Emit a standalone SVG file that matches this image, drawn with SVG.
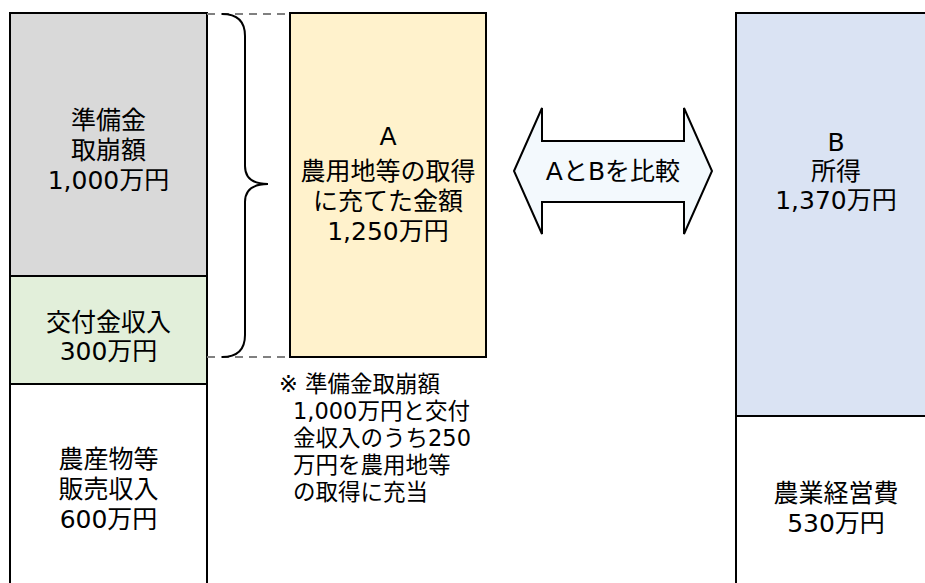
<svg xmlns="http://www.w3.org/2000/svg" width="925" height="583" viewBox="0 0 925 583">
<style>
.box{stroke:#000;stroke-width:2}
.t{font-family:"DejaVu Sans","Noto Sans CJK JP",sans-serif;font-size:25px;fill:#000;text-anchor:middle}
.n{font-family:"DejaVu Sans","Noto Sans CJK JP",sans-serif;font-size:22.5px;fill:#000}
.dash{stroke:#808080;stroke-width:2;stroke-dasharray:8 6;fill:none}
</style>
<rect width="925" height="583" fill="#fff"/>
<g id="reserve">
<rect class="box" x="10" y="13" width="197" height="263" fill="#d9d9d9"/>
<text class="t" x="108.5" y="129">準備金</text>
<text class="t" x="108.5" y="159">取崩額</text>
<text class="t" x="108.5" y="189">1,000万円</text>
</g>
<g id="grant">
<rect class="box" x="10" y="276" width="197" height="108" fill="#e2efda"/>
<text class="t" x="108.5" y="331">交付金収入</text>
<text class="t" x="108.5" y="360">300万円</text>
</g>
<g id="sales">
<rect class="box" x="10" y="384" width="197" height="210" fill="#fff"/>
<text class="t" x="108.5" y="468">農産物等</text>
<text class="t" x="108.5" y="498">販売収入</text>
<text class="t" x="108.5" y="528">600万円</text>
</g>
<g id="A">
<rect class="box" x="290" y="13" width="196" height="344" fill="#fff2cc"/>
<text class="t" x="388" y="145">A</text>
<text class="t" x="388" y="180">農用地等の取得</text>
<text class="t" x="388" y="210">に充てた金額</text>
<text class="t" x="388" y="240">1,250万円</text>
</g>
<g id="B">
<rect class="box" x="736" y="13" width="200" height="403" fill="#dae3f3"/>
<text class="t" x="836" y="151">B</text>
<text class="t" x="836" y="180">所得</text>
<text class="t" x="836" y="209">1,370万円</text>
</g>
<g id="expense">
<rect class="box" x="736" y="416" width="200" height="180" fill="#fff"/>
<text class="t" x="836" y="502">農業経営費</text>
<text class="t" x="836" y="532">530万円</text>
</g>
<g id="compare">
<polygon points="514,171 542,108 542,141 684,141 684,108 712,171 684,234 684,202 542,202 542,234" fill="#f3f9fd" stroke="#000" stroke-width="2"/>
<text class="t" x="613" y="180">AとBを比較</text>
</g>
<g id="note">
<text class="n" x="279" y="392">※ 準備金取崩額</text>
<text class="n" x="293" y="419">1,000万円と交付</text>
<text class="n" x="293" y="446">金収入のうち250</text>
<text class="n" x="293" y="473">万円を農用地等</text>
<text class="n" x="293" y="500">の取得に充当</text>
</g>
<g id="connectors">
<line class="dash" x1="207" y1="14" x2="290" y2="14"/>
<line class="dash" x1="207" y1="357" x2="290" y2="357"/>
<path d="M222,14 Q245,14 245,36 L245,166 Q245,184 268,184 Q245,184 245,202 L245,335 Q245,357 222,357" fill="none" stroke="#000" stroke-width="2"/>
</g>
</svg>
